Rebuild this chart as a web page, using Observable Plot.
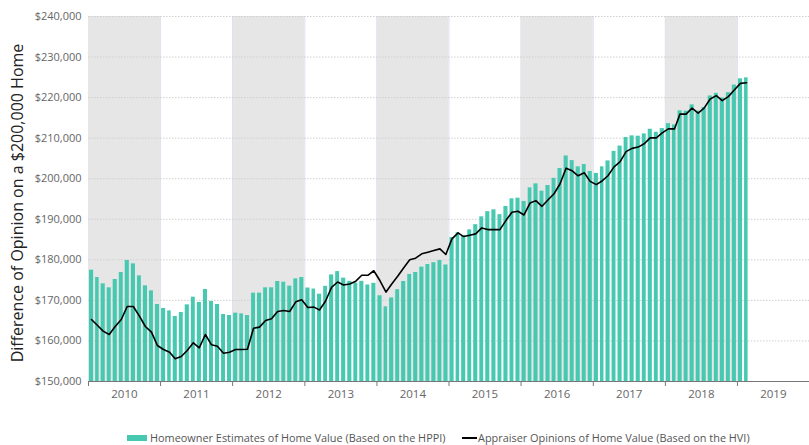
<!DOCTYPE html>
<html>
<head>
<meta charset="utf-8">
<script src="https://cdn.jsdelivr.net/npm/d3@7"></script>
<script src="https://cdn.jsdelivr.net/npm/@observablehq/plot@0.6"></script>
<style>
  body { margin: 0; background: #fff; font-family: "Open Sans", sans-serif; }
  #wrap { position: relative; width: 809px; height: 445px; }
  #legend { position: absolute; left: 0; top: 410px; width: 809px; height: 35px; font-size: 10.9px; color: #555; }
  .item { position: absolute; top: 20px; display: flex; align-items: center; white-space: nowrap; }
  .sw { display: inline-block; width: 20px; height: 6px; background: #47c9b1; margin-right: 3px; }
  .ln { display: inline-block; width: 15px; height: 2px; background: #000; margin-right: 1px; }
</style>
</head>
<body>
<div id="wrap">
  <div id="chart"></div>
  <div id="legend"></div>
</div>
<script>
// ---- Data (monthly, Jan 2010 – Feb 2019) ----
const startMonth = "2010-01";
const homeowner = [
  177450, 175640, 174080, 173100, 175150, 176880, 179840, 179010, 176050, 173590, 172350, 168980,
  168000, 167420, 166030, 167010, 168900, 170790, 169480, 172680, 169720, 168980, 166520, 166270,
  166850, 166680, 166270, 171780, 171780, 173100, 173100, 174660, 174490, 173510, 175310, 175640,
  173050, 172800, 171520, 173470, 176280, 177100, 175490, 174700, 174250, 174700, 173800, 174210,
  171150, 168420, 170600, 172640, 174660, 176390, 176880, 178200, 178850, 179300, 179840, 178730,
  185500, 186700, 185960, 187400, 188670, 190610, 191880, 192330, 191140, 193150, 195050, 195200,
  194390, 197750, 198740, 196930, 198330, 200100, 202520, 205610, 204470, 202930, 203500, 201790,
  201300, 202930, 204390, 206750, 208050, 210160, 210570, 210490, 211060, 212200, 211460, 212360,
  213580, 213250, 216750, 216670, 218210, 216670, 217560, 220410, 221060, 219920, 221220, 223090,
  224630, 224880
];
const appraiser = [
  165290, 163810, 162410, 161590, 163560, 165290, 168490, 168490, 166110, 163560, 162160, 158870,
  157890, 157230, 155590, 156160, 157640, 159530, 158300, 161590, 159040, 158710, 156980, 157230,
  157890, 157890, 157970, 163150, 163400, 165040, 165450, 167260, 167510, 167260, 169640, 170140,
  168250, 168330, 167630, 169860, 173200, 174530, 173800, 174040, 174740, 176190, 176190, 177310,
  174900, 172050, 174000, 175940, 178000, 180020, 180410, 181480, 181890, 182300, 182700, 181310,
  185170, 186640, 185740, 186070, 186400, 187870, 187460, 187460, 187460, 189680, 191730, 191970,
  191070, 194020, 194600, 193200, 194760, 196300, 198700, 202600, 201950, 200730, 201460, 199350,
  198540, 199510, 200730, 202930, 204150, 206670, 207480, 207800, 208620, 210080, 210080, 211300,
  212280, 212280, 215930, 215930, 217400, 216180, 217400, 219670, 220490, 219270, 220240, 221870,
  223500, 223660
];
const years = [2010, 2011, 2012, 2013, 2014, 2015, 2016, 2017, 2018, 2019];
const shadedYears = [2010, 2012, 2014, 2016, 2018];
const yTicks = [150000, 160000, 170000, 180000, 190000, 200000, 210000, 220000, 230000, 240000];
const yTitle = "Difference of Opinion on a $200,000 Home";
const seriesNames = ["Homeowner Estimates of Home Value (Based on the HPPI)", "Appraiser Opinions of Home Value (Based on the HVI)"];
const colors = {bar: "#47c9b1", line: "#000000", band: "#e6e6e6"};

// ---- Build table ----
const t0 = d3.utcParse("%Y-%m")(startMonth);
const data = homeowner.map((h, i) => {
  const date = d3.utcMonth.offset(t0, i);
  return {date, next: d3.utcMonth.offset(t0, i + 1), mid: d3.utcDay.offset(date, 15), homeowner: h, appraiser: appraiser[i]};
});
const Y = y => new Date(Date.UTC(y, 0, 1));
const yearStarts = years.concat([2020]).map(Y);
const midYears = years.map(y => new Date(Date.UTC(y, 6, 2)));
const yMin = yTicks[0], yMax = yTicks[yTicks.length - 1];

const chart = Plot.plot({
  width: 809,
  height: 410,
  marginTop: 16,
  marginBottom: 29,
  marginLeft: 88,
  marginRight: 0,
  style: {fontFamily: "'Open Sans', sans-serif", fontSize: "11px", color: "#666", background: "#fff"},
  x: {type: "utc", domain: [Y(2010), Y(2020)]},
  y: {domain: [yMin, yMax]},
  marks: [
    Plot.rect(shadedYears, {x1: d => Y(d), x2: d => Y(d + 1), y1: yMin, y2: yMax, fill: colors.band}),
    Plot.ruleX(yearStarts.slice(1, -1), {y1: yMin, y2: yMax, stroke: "#dde3f0", strokeWidth: 1}),
    Plot.ruleY(yTicks.slice(1), {stroke: "#cfcfcf", strokeDasharray: "1.5,1.5", strokeWidth: 1}),
    Plot.rect(data, {x1: "date", x2: "next", y1: yMin, y2: "homeowner", fill: colors.bar, insetLeft: 1, insetRight: 1}),
    Plot.line(data, {x: "mid", y: "appraiser", stroke: colors.line, strokeWidth: 1.6}),
    Plot.ruleY([yMin], {stroke: "#777", strokeWidth: 1.2}),
    Plot.axisY({ticks: yTicks, tickSize: 0, tickPadding: 7, tickFormat: d => "$" + d3.format(",")(d), label: null, fontSize: 11}),
    Plot.axisX({ticks: yearStarts, tickSize: 5, tickFormat: () => "", label: null, stroke: "#777"}),
    Plot.axisX({ticks: midYears, tickSize: 0, tickPadding: 8, tickFormat: d3.utcFormat("%Y"), label: null, fontSize: 11.5}),
    Plot.text([yTitle], {frameAnchor: "left", textAnchor: "middle", rotate: -90, dx: -71, dy: 4, fontSize: 16, fill: "#222"})
  ]
});
document.getElementById("chart").appendChild(chart);

const legend = document.getElementById("legend");
legend.innerHTML =
  `<div class="item" style="left:127px"><span class="sw"></span>${seriesNames[0]}</div>` +
  `<div class="item" style="left:462px"><span class="ln"></span>${seriesNames[1]}</div>`;
</script>
</body>
</html>
